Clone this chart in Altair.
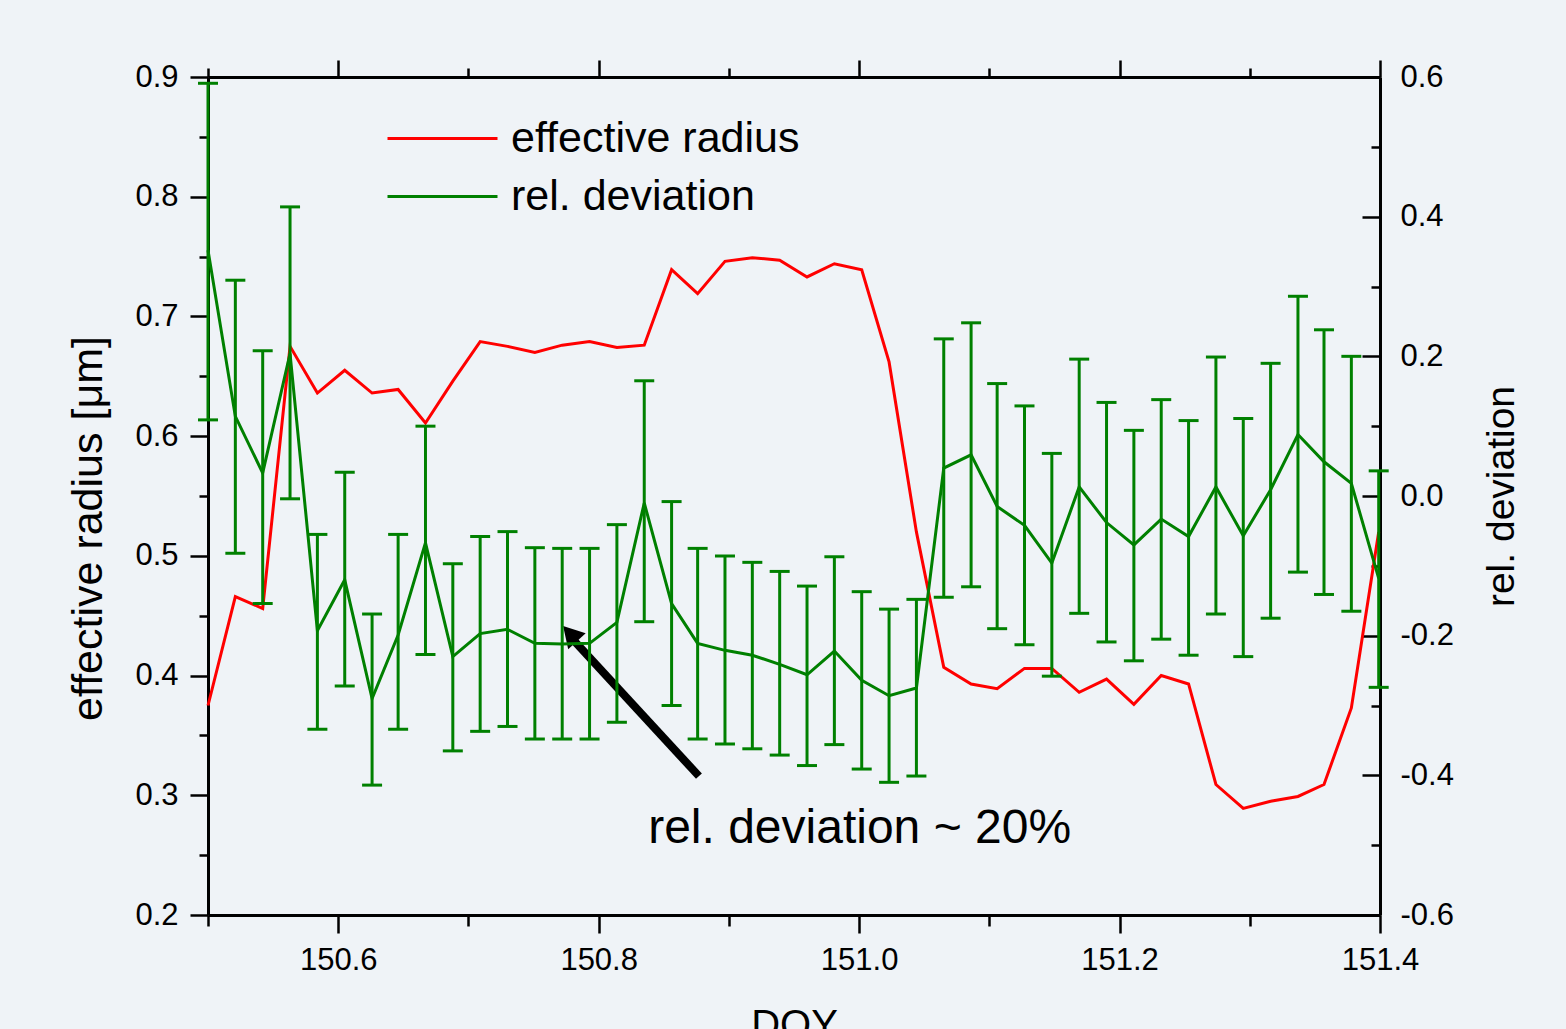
import altair as alt
import pandas as pd

# ---------------- data ----------------
doy = [150.500, 150.521, 150.542, 150.563, 150.584, 150.605, 150.626, 150.646,
       150.667, 150.688, 150.709, 150.730, 150.751, 150.772, 150.793, 150.814,
       150.835, 150.856, 150.876, 150.897, 150.918, 150.939, 150.960, 150.981,
       151.002, 151.023, 151.044, 151.065, 151.086, 151.106, 151.127, 151.148,
       151.169, 151.190, 151.211, 151.232, 151.253, 151.274, 151.295, 151.316,
       151.337, 151.357, 151.378, 151.399]

radius = [0.375, 0.466, 0.456, 0.675, 0.636, 0.655, 0.636, 0.639, 0.611, 0.646,
          0.679, 0.675, 0.670, 0.676, 0.679, 0.674, 0.676, 0.739, 0.719, 0.746,
          0.749, 0.747, 0.733, 0.744, 0.739, 0.662, 0.520, 0.407, 0.393, 0.389,
          0.406, 0.406, 0.386, 0.397, 0.376, 0.400, 0.393, 0.309, 0.289, 0.295,
          0.299, 0.309, 0.373, 0.520]

rel_dev = [0.352, 0.114, 0.033, 0.204, -0.193, -0.120, -0.290, -0.199, -0.067, -0.230,
           -0.197, -0.191, -0.211, -0.212, -0.211, -0.181, -0.010, -0.154, -0.211, -0.221,
           -0.228, -0.241, -0.256, -0.222, -0.264, -0.286, -0.275, 0.040, 0.059, -0.015,
           -0.042, -0.096, 0.013, -0.038, -0.070, -0.033, -0.058, 0.013, -0.057, 0.009,
           0.088, 0.049, 0.018, -0.118]

rel_dev_hi = [0.591, 0.309, 0.208, 0.414, -0.055, 0.034, -0.169, -0.055, 0.100, -0.097,
              -0.058, -0.051, -0.074, -0.075, -0.075, -0.041, 0.165, -0.008, -0.075, -0.086,
              -0.095, -0.108, -0.129, -0.087, -0.137, -0.162, -0.148, 0.225, 0.248, 0.161,
              0.129, 0.061, 0.196, 0.134, 0.094, 0.138, 0.108, 0.199, 0.111, 0.190,
              0.286, 0.238, 0.200, 0.036]

rel_dev_lo = [0.109, -0.082, -0.154, -0.004, -0.334, -0.272, -0.414, -0.334, -0.227, -0.365,
              -0.337, -0.330, -0.348, -0.348, -0.348, -0.324, -0.180, -0.300, -0.348, -0.355,
              -0.362, -0.371, -0.386, -0.356, -0.391, -0.410, -0.401, -0.145, -0.130, -0.190,
              -0.213, -0.258, -0.168, -0.209, -0.236, -0.205, -0.228, -0.169, -0.230, -0.175,
              -0.109, -0.141, -0.165, -0.274]

series_names = ["effective radius", "rel. deviation"]
series_colors = ["#ff0000", "#008000"]

x_tick_values = [150.5, 150.6, 150.7, 150.8, 150.9, 151.0, 151.1, 151.2, 151.3, 151.4]
left_tick_values = [0.2, 0.25, 0.3, 0.35, 0.4, 0.45, 0.5, 0.55, 0.6, 0.65, 0.7, 0.75,
                    0.8, 0.85, 0.9]
right_tick_values = [-0.6, -0.5, -0.4, -0.3, -0.2, -0.1, 0.0, 0.1, 0.2, 0.3, 0.4, 0.5, 0.6]

# annotation: arrow (tail -> head) and note text, in data units of the left axis
arrow_doy = [150.877, 150.782]
arrow_val = [0.316, 0.428]
arrowhead_doy = [150.778]
arrowhead_val = [0.435]
note_text = ["rel. deviation ~ 20%"]
note_doy = [150.838]
note_val = [0.260]

# ---------------- frames ----------------
df_r = pd.DataFrame({"doy": doy, "radius": radius, "series": series_names[0]})
df_g = pd.DataFrame({"doy": doy, "dev": rel_dev, "hi": rel_dev_hi, "lo": rel_dev_lo,
                     "series": series_names[1]})
df_arrow = pd.DataFrame({"doy": arrow_doy, "val": arrow_val})
df_head = pd.DataFrame({"doy": arrowhead_doy, "val": arrowhead_val})
df_note = pd.DataFrame({"doy": note_doy, "val": note_val, "txt": note_text})

FONT = "Liberation Sans"
W, H = 1172, 838
GREEN = series_colors[1]
LW = 3


def major(mult):
    return f"abs(datum.value*{mult} - round(datum.value*{mult})) < 0.0001"


def label_if_major(mult):
    return (f"{major(mult)} ? replace(format(datum.value, '.1f'), '\u2212', '-') : ''")


x_scale = alt.Scale(domain=[150.5, 151.4], nice=False, zero=False)
left_scale = alt.Scale(domain=[0.2, 0.9], nice=False, zero=False)
right_scale = alt.Scale(domain=[-0.6, 0.6], nice=False, zero=False)

common = dict(domainColor="black", domainWidth=3, tickColor="black", tickWidth=2.5,
              labelFont=FONT, labelFontSize=31, labelColor="black", titleFont=FONT,
              titleColor="black", titleFontWeight="normal", grid=False,
              labelFlush=False, labelOverlap=False)

bottom_axis = alt.Axis(orient="bottom", values=x_tick_values,
                       labelExpr=label_if_major(5),
                       tickSize={"condition": {"test": major(5), "value": 18}, "value": 11},
                       labelPadding=12, title="DOY", titleFontSize=40, titlePadding=30,
                       **common)
left_axis = alt.Axis(orient="left", values=left_tick_values,
                     labelExpr=label_if_major(10),
                     tickSize={"condition": {"test": major(10), "value": 18}, "value": 9},
                     labelPadding=12, title="effective radius [μm]", titleFontSize=43,
                     titlePadding=24, titleY=451, **common)
right_axis = alt.Axis(orient="right", values=right_tick_values,
                      labelExpr=label_if_major(5),
                      ticks=False, tickSize=0, labelPadding=20,
                      title="rel. deviation", titleAngle=270, titleFontSize=39,
                      titlePadding=68, **common)
top_axis = alt.Axis(orient="top", values=x_tick_values, labels=False, title=None,
                    tickSize={"condition": {"test": major(5), "value": 17}, "value": 9},
                    domainColor="black", domainWidth=3, tickColor="black",
                    tickWidth=2.5, grid=False)
right_inner_ticks = alt.Axis(orient="left", offset=-W, values=right_tick_values,
                             labels=False, domain=False, title=None,
                             tickSize={"condition": {"test": major(5), "value": 18},
                                       "value": 9},
                             tickColor="black", tickWidth=2.5, grid=False)

# legend symbol: a horizontal stroke, drawn as a custom path with a small symbol size
color = alt.Color(
    "series:N",
    scale=alt.Scale(domain=series_names, range=series_colors),
    legend=alt.Legend(title=None, orient="none", legendX=202, legendY=40,
                      symbolType="M-4,0H6", symbolSize=484, symbolStrokeWidth=LW,
                      labelFont=FONT, labelFontSize=43, labelColor="black",
                      labelOffset=58, labelLimit=0, rowPadding=14, padding=0,
                      symbolOffset=0),
)

X_bottom = alt.X("doy:Q", scale=x_scale, axis=bottom_axis)
X_none = alt.X("doy:Q", scale=x_scale, axis=None)

# ---------------- left (effective radius) group ----------------
red_line = alt.Chart(df_r).mark_line(strokeWidth=LW).encode(
    x=X_bottom,
    y=alt.Y("radius:Q", scale=left_scale, axis=left_axis),
    color=color,
)
arrow_line = alt.Chart(df_arrow).mark_line(color="black", strokeWidth=8,
                                           strokeCap="butt").encode(
    x=X_bottom, y=alt.Y("val:Q", scale=left_scale, axis=left_axis))
arrow_head = alt.Chart(df_head).mark_point(shape="triangle-up", filled=True, opacity=1,
                                           color="black", size=560, angle=317.6).encode(
    x=X_bottom, y=alt.Y("val:Q", scale=left_scale, axis=left_axis))
note = alt.Chart(df_note).mark_text(align="left", baseline="alphabetic", font=FONT,
                                    fontSize=48, color="black").encode(
    x=X_bottom, y=alt.Y("val:Q", scale=left_scale, axis=left_axis), text="txt:N")

left_group = alt.layer(red_line, arrow_line, arrow_head, note)

# ---------------- right (rel. deviation) group ----------------
green_bars = alt.Chart(df_g).mark_rule(color=GREEN, strokeWidth=LW).encode(
    x=X_none, y=alt.Y("lo:Q", scale=right_scale, axis=right_axis), y2="hi:Q")
green_cap_hi = alt.Chart(df_g).mark_tick(color=GREEN, orient="horizontal", size=20,
                                         thickness=LW, opacity=1).encode(
    x=X_none, y=alt.Y("hi:Q", scale=right_scale, axis=right_axis))
green_cap_lo = alt.Chart(df_g).mark_tick(color=GREEN, orient="horizontal", size=20,
                                         thickness=LW, opacity=1).encode(
    x=X_none, y=alt.Y("lo:Q", scale=right_scale, axis=right_axis))
green_line = alt.Chart(df_g).mark_line(strokeWidth=LW).encode(
    x=X_none, y=alt.Y("dev:Q", scale=right_scale, axis=right_axis), color=color)

green_group = alt.layer(green_bars, green_cap_hi, green_cap_lo, green_line)

# ---------------- frame helper: top ticks and inward right ticks ----------------
frame = alt.Chart(df_g).mark_point(opacity=0).encode(
    x=alt.X("doy:Q", scale=x_scale, axis=top_axis),
    y=alt.Y("dev:Q", scale=right_scale, axis=right_inner_ticks),
)

chart = (
    alt.layer(left_group, green_group, frame)
    .resolve_scale(y="independent")
    .resolve_axis(x="independent", y="independent")
    .properties(
        width=W, height=H,
        autosize=alt.AutoSizeParams(type="none"),
        padding={"left": 208, "top": 77, "right": 186, "bottom": 114},
        background="#eff3f7",
    )
    .configure_view(stroke=None)
)

chart.save("out.html", embed_options={"renderer": "svg", "actions": False})
